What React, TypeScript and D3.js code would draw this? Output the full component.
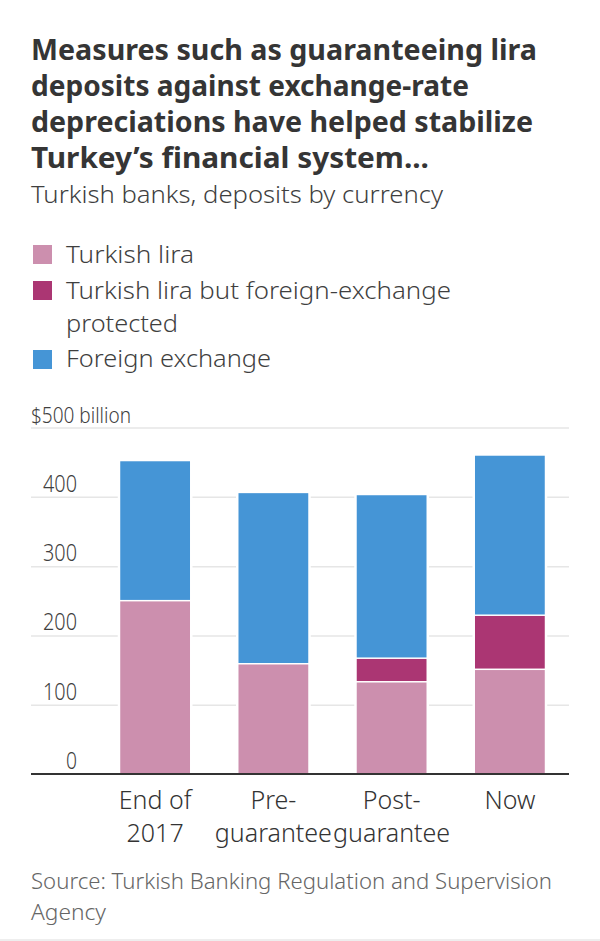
import React from "react";
import * as d3 from "d3";

const categories = ["End of 2017", "Pre-guarantee", "Post-guarantee", "Now"];
const categoryLines = [["End of", "2017"], ["Pre-", "guarantee"], ["Post-", "guarantee"], ["Now"]];
const lira = [252, 161, 135, 153];
const protectedLira = [0, 0, 34, 78];
const foreign = [200, 245, 234, 229];
const seriesNames = ["Turkish lira", "Turkish lira but foreign-exchange protected", "Foreign exchange"];
const seriesColors = ["#cc8fae", "#ab3673", "#4595d6"];
const tickValues = [0, 100, 200, 300, 400, 500];
const titleLines = [
  "Measures such as guaranteeing lira",
  "deposits against exchange-rate",
  "depreciations have helped stabilize",
  "Turkey\u2019s financial system...",
];
const subtitle = "Turkish banks, deposits by currency";
const sourceLines = ["Source: Turkish Banking Regulation and Supervision", "Agency"];

const W = 600, H = 941;
const FONT = "'Noto Sans', 'Open Sans', sans-serif";

export default function App() {
  const x = d3.scaleBand<string>().domain(categories).range([96, 569]).paddingInner(0.41).paddingOuter(0.205);
  const y = d3.scaleLinear().domain([0, 500]).range([774.6, 428]);
  const rows = categories.map((c, i) => ({ c, a: lira[i], b: protectedLira[i], f: foreign[i] }));
  const stack = d3.stack<any>().keys(["a", "b", "f"])(rows);
  const body = "#3f3f3f";

  return (
    <svg width={W} height={H} viewBox={`0 0 ${W} ${H}`}
      style={{ position: "absolute", left: 0, top: 0, background: "#fff", fontFamily: FONT }}>
      {titleLines.map((t, i) => (
        <text key={t} x={31} y={60 + i * 36} fontSize={28.5} fontWeight={700} fill="#353535"
          textLength={[506, 438, 502, 398][i]} lengthAdjust="spacingAndGlyphs">{t}</text>
      ))}
      <text x={31} y={203} fontSize={24} fontWeight={300} fill={body} textLength={412} lengthAdjust="spacingAndGlyphs">{subtitle}</text>

      <rect x={33} y={245} width={19} height={19} fill={seriesColors[0]} />
      <text x={66} y={263} fontSize={24} fontWeight={300} fill={body} textLength={128} lengthAdjust="spacingAndGlyphs">{seriesNames[0]}</text>
      <rect x={33} y={281} width={19} height={19} fill={seriesColors[1]} />
      <text x={66} y={299} fontSize={24} fontWeight={300} fill={body} textLength={385} lengthAdjust="spacingAndGlyphs">Turkish lira but foreign-exchange</text>
      <text x={66} y={332} fontSize={24} fontWeight={300} fill={body} textLength={112} lengthAdjust="spacingAndGlyphs">protected</text>
      <rect x={33} y={350} width={19} height={19} fill={seriesColors[2]} />
      <text x={66} y={367} fontSize={24} fontWeight={300} fill={body} textLength={205} lengthAdjust="spacingAndGlyphs">{seriesNames[2]}</text>

      {tickValues.filter(v => v > 0).map(v => (
        <line key={v} x1={31} x2={569} y1={y(v)} y2={y(v)} stroke="#e6e6e6" strokeWidth={1.5} />
      ))}
      {tickValues.map(v => (
        <text key={v} x={v === 500 ? 31 : 77} y={y(v) - 5.5} textAnchor={v === 500 ? "start" : "end"}
          fontSize={v === 500 ? 22 : 23} fontWeight={300} fill={body}
          textLength={v === 500 ? 100 : v === 0 ? 11 : 34} lengthAdjust="spacingAndGlyphs">
          {v === 500 ? "$500 billion" : v}
        </text>
      ))}

      {categories.map((c, i) => (
        <rect key={c} x={(x(c) as number) - 2.5} width={x.bandwidth() + 5}
          y={y(lira[i] + protectedLira[i] + foreign[i]) - 2.5}
          height={y(0) - y(lira[i] + protectedLira[i] + foreign[i]) + 2.5} fill="#fff" />
      ))}
      {stack.map((s, si) => (
        <g key={si} fill={seriesColors[si]}>
          {s.map((d, i) => d[1] - d[0] > 0 && (
            <rect key={i} x={x(categories[i])} width={x.bandwidth()} y={y(d[1])} height={y(d[0]) - y(d[1])}
              stroke="#fff" strokeWidth={3} paintOrder="stroke" />
          ))}
        </g>
      ))}
      <line x1={31} x2={569} y1={774} y2={774} stroke="#333" strokeWidth={2} />

      {categoryLines.map((ls, i) => ls.map((l, j) => (
        <text key={l + i} x={(x(categories[i]) as number) + x.bandwidth() / 2} y={809 + j * 33} textAnchor="middle"
          fontSize={25} fontWeight={300} fill="#333">{l}</text>
      )))}

      {sourceLines.map((t, i) => (
        <text key={t} x={31} y={889 + i * 31} fontSize={22} fontWeight={300} fill="#666"
          textLength={i === 0 ? 521 : 75} lengthAdjust="spacingAndGlyphs">{t}</text>
      ))}
      <line x1={0} x2={600} y1={940} y2={940} stroke="#ddd" strokeWidth={1} />
    </svg>
  );
}
